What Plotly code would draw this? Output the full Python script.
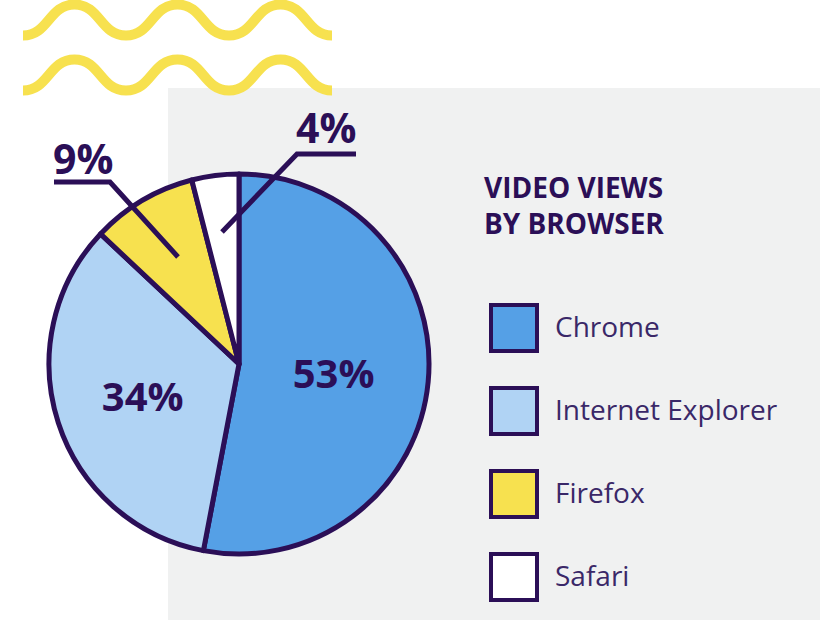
import plotly.graph_objects as go

browsers = ["Chrome", "Internet Explorer", "Firefox", "Safari"]
views_pct = [53, 34, 9, 4]
slice_colors = ["#55a0e6", "#b0d3f4", "#f7e14f", "#ffffff"]

title_lines = ["VIDEO VIEWS", "BY BROWSER"]

INK = "#2b0f57"
TEXT = "#3a2868"
GREY = "#f0f1f1"
YELLOW = "#f7e14f"
FONT = "Open Sans"

W, H = 820, 620

fig = go.Figure()

# pie: centre ~ (239, 364) px, radius ~ 190 px
cx, cy, r = 239, 364, 190
fig.add_trace(go.Pie(
    labels=browsers,
    values=views_pct,
    sort=False,
    direction="clockwise",
    rotation=0,
    marker=dict(colors=slice_colors, line=dict(color=INK, width=5)),
    texttemplate="%{value}%",
    textposition=["inside", "inside", "none", "none"],
    insidetextorientation="horizontal",
    textfont=dict(family=FONT, size=40, color=INK, weight="bold"),
    hoverinfo="skip",
    showlegend=False,
    domain=dict(x=[(cx - r) / W, (cx + r) / W],
                y=[(H - cy - r) / H, (H - cy + r) / H]),
))

shapes = []

# grey panel behind the chart
shapes.append(dict(type="rect", xref="x", yref="y", x0=168, x1=W, y0=88, y1=H,
                   fillcolor=GREY, line=dict(width=0), layer="below"))


# decorative wavy lines
def wave(x0, yc, amp, period, n):
    half = period / 2
    path = f"M {x0},{yc + amp}"
    x = x0
    up = True
    for _ in range(n * 2):
        y_from = yc + amp if up else yc - amp
        y_to = yc - amp if up else yc + amp
        path += f" C {x + half / 2},{y_from} {x + half / 2},{y_to} {x + half},{y_to}"
        x += half
        up = not up
    return path


for yc in (20, 75):
    shapes.append(dict(type="path", xref="x", yref="y", path=wave(23, yc, 15.5, 103, 3),
                       line=dict(color=YELLOW, width=10), layer="below"))

# leader lines for the small slices
shapes.append(dict(type="path", xref="x", yref="y", path="M 54,182 L 110,182 L 178,257",
                   line=dict(color=INK, width=5)))
shapes.append(dict(type="path", xref="x", yref="y", path="M 356,154 L 297,154 L 222,232",
                   line=dict(color=INK, width=5)))

annotations = []
annotations.append(dict(x=83, y=158, text=f"{views_pct[2]}%", showarrow=False,
                        xref="x", yref="y",
                        font=dict(family=FONT, size=41, color=INK, weight="bold")))
annotations.append(dict(x=326, y=127, text=f"{views_pct[3]}%", showarrow=False,
                        xref="x", yref="y",
                        font=dict(family=FONT, size=41, color=INK, weight="bold")))

# legend title
annotations.append(dict(x=482, y=205, text="<br>".join(title_lines), showarrow=False,
                        xref="x", yref="y", xanchor="left", yanchor="middle", align="left",
                        font=dict(family=FONT, size=28, color=INK, weight="bold")))

# custom legend with large outlined swatches
for i, (name, col) in enumerate(zip(browsers, slice_colors)):
    top = 303 + i * 83
    shapes.append(dict(type="rect", xref="x", yref="y", x0=491, x1=537, y0=top + 2, y1=top + 48,
                       fillcolor=col, line=dict(color=INK, width=4)))
    annotations.append(dict(x=553, y=top + 23, text=name, showarrow=False,
                            xref="x", yref="y", xanchor="left", yanchor="middle",
                            font=dict(family=FONT, size=28, color=TEXT)))

fig.update_layout(
    width=W, height=H,
    margin=dict(l=0, r=0, t=0, b=0),
    paper_bgcolor="white",
    plot_bgcolor="rgba(0,0,0,0)",
    xaxis=dict(range=[0, W], visible=False, fixedrange=True),
    yaxis=dict(range=[H, 0], visible=False, fixedrange=True),
    shapes=shapes,
    annotations=annotations,
)

# drop the default page margin so the figure fills the window exactly
fig.write_html("out.html", config={"displayModeBar": False},
               post_script="document.body.style.margin='0';")
